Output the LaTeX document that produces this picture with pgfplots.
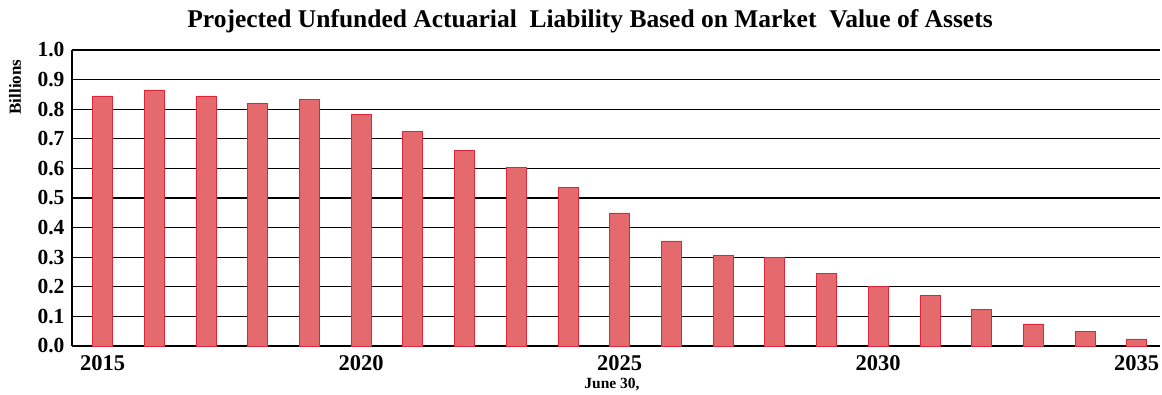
\documentclass[border=0pt]{standalone}
\usepackage{fontspec}
\setmainfont{Liberation Serif}
\usepackage{pgfplots}
\pgfplotsset{compat=1.18}
\definecolor{barfill}{RGB}{228,106,110}
\definecolor{baredge}{RGB}{222,38,58}
\begin{document}
\begin{tikzpicture}
\begin{axis}[
  at={(0pt,0pt)}, anchor=south west,
  scale only axis, width=1088pt, height=296pt,
  xmin=2014.41, xmax=2035.45, ymin=0, ymax=1,
  axis x line=bottom, axis y line=left,
  axis line style={-},
  x axis line style={line width=1.6pt},
  y axis line style={line width=1.3pt},
  major tick length=0pt,
  xtick={2015,2020,2025,2030,2035},
  ytick={0,0.1,...,1.0},
  ymajorgrids, major grid style={black, line width=1.1pt},
  /pgf/number format/assume math mode=true,
  xticklabel style={font=\bfseries\fontsize{22.5}{22.5}\selectfont, /pgf/number format/1000 sep={}, yshift=-6pt},
  yticklabel style={font=\bfseries\fontsize{21.5}{21.5}\selectfont, xshift=-4pt, /pgf/number format/.cd, fixed, fixed zerofill, precision=1},
  ybar, bar width=20pt,
]
\addplot[fill=barfill, draw=baredge, line width=0.6pt] coordinates {
(2015,0.845) (2016,0.865) (2017,0.845) (2018,0.820) (2019,0.832)
(2020,0.783) (2021,0.725) (2022,0.661) (2023,0.603) (2024,0.535)
(2025,0.450) (2026,0.355) (2027,0.305) (2028,0.300) (2029,0.244)
(2030,0.202) (2031,0.171) (2032,0.125) (2033,0.075) (2034,0.050)
(2035,0.024)};
\end{axis}
\node[anchor=base, font=\bfseries\fontsize{15.5}{15.5}\selectfont] at (540pt,-42pt) {June 30,};
\node[anchor=base, font=\bfseries\fontsize{25.5}{26}\selectfont] at (518pt,318pt) {Projected Unfunded Actuarial\ \ Liability Based on Market\ \ Value of Assets};
\node[rotate=90, font=\bfseries\fontsize{17}{17}\selectfont] at (-57pt,259pt) {Billions};
\pgfresetboundingbox
\useasboundingbox (-72pt,-48pt) rectangle (1090pt,346pt);
\end{tikzpicture}
\end{document}
